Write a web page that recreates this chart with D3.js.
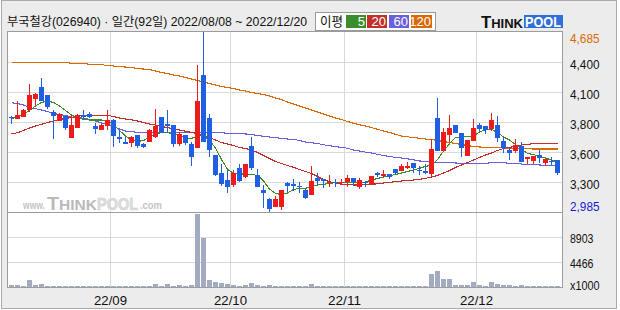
<!DOCTYPE html>
<html>
<head>
<meta charset="utf-8">
<script src="https://cdn.jsdelivr.net/npm/d3@7"></script>
<style>
body { margin: 0; background: #fff; }
svg { display: block; }
text { font-family: "Liberation Sans", "Noto Sans CJK KR", sans-serif; }
</style>
</head>
<body>
<script>
// trading days per month, 2022
var augDays = [8,9,10,11,12,16,17,18,19,22,23,24,25,26,29,30,31];
var sepDays = [1,2,5,6,7,8,13,14,15,16,19,20,21,22,23,26,27,28,29,30];
var octDays = [4,5,6,7,11,12,13,14,17,18,19,20,21,24,25,26,27,28,31];
var novDays = [1,2,3,4,7,8,9,10,11,14,15,16,17,18,21,22,23,24,25,28,29,30];
var decDays = [1,2,5,6,7,8,9,12,13,14,15,16,19,20];

var opens = [3880,3860,3885,3950,4050,4165,4090,3930,3845,3890,
  3685,3775,3900,3910,3795,3755,3800,3855,3695,3645,
  3635,3710,3625,3650,3690,3880,3815,3805,3625,3710,
  3625,3585,4280,3875,3525,3350,3285,3240,3400,3320,
  3610,3330,3195,3110,3035,3035,3260,3245,3235,3195,
  3150,3305,3295,3260,3270,3260,3270,3305,3225,3270,
  3250,3355,3325,3345,3390,3375,3400,3445,3380,3370,
  3345,3875,3565,3710,3805,3735,3515,3655,3805,3795,
  3765,3805,3655,3570,3565,3610,3490,3470,3525,3450,
  3470,3475];
var highs = [3890,4035,3960,4195,4105,4250,4090,3950,3920,3890,
  3900,3910,3950,3930,3825,3815,3950,3860,3760,3690,
  3705,3715,3635,3770,3960,3880,3950,3805,3745,3715,
  3650,4375,4685,3910,3525,3435,3380,3380,3435,3435,
  3690,3395,3240,3115,3135,3195,3270,3295,3270,3200,
  3415,3350,3300,3335,3295,3295,3330,3305,3310,3280,
  3325,3365,3380,3345,3390,3435,3460,3445,3415,3435,
  3675,4060,3775,3900,3805,3735,3665,3865,3825,3800,
  3920,3890,3695,3600,3675,3645,3500,3515,3570,3490,
  3500,3475];
var lows = [3815,3860,3880,3930,3985,4035,3955,3670,3845,3760,
  3685,3775,3855,3875,3720,3755,3760,3600,3635,3625,
  3595,3590,3585,3650,3680,3730,3730,3600,3610,3620,
  3420,3585,3650,3500,3325,3235,3165,3220,3270,3305,
  3380,3220,3020,2985,3035,3005,3175,3185,3160,3110,
  3150,3240,3210,3225,3225,3240,3225,3235,3200,3220,
  3250,3315,3305,3295,3345,3375,3395,3355,3335,3345,
  3320,3565,3565,3650,3730,3505,3515,3655,3750,3720,
  3750,3650,3545,3475,3545,3460,3435,3435,3450,3415,
  3430,3335];
var closes = [3870,3900,3950,4090,4095,4035,3980,3895,3910,3780,
  3805,3900,3880,3880,3765,3805,3855,3705,3675,3630,
  3695,3610,3600,3760,3795,3735,3795,3625,3720,3640,
  3505,4035,3650,3570,3335,3250,3225,3350,3280,3435,
  3405,3225,3160,3015,3110,3195,3235,3235,3220,3120,
  3280,3280,3280,3270,3255,3270,3310,3270,3285,3255,
  3325,3330,3345,3315,3350,3420,3420,3405,3370,3355,
  3580,3565,3740,3775,3730,3585,3665,3775,3770,3760,
  3855,3685,3590,3545,3620,3460,3500,3515,3495,3490,
  3460,3355];
// volume, x1000 shares
var volumes = [300,360,180,1250,360,530,180,180,180,180,
  180,180,180,180,180,180,180,180,180,180,
  180,180,180,180,530,180,530,180,360,180,
  360,13000,8720,1250,890,710,530,360,180,360,
  710,360,180,360,180,180,180,180,180,180,
  530,180,180,180,180,180,180,180,180,180,
  180,180,180,180,180,180,180,180,180,180,
  2310,2850,1420,1420,360,360,360,890,360,180,
  890,530,360,360,180,360,180,180,180,180,
  180,180];

var ma5 = [3863,3885,3910,3944,3986,4019,4033,4019,3986,3944,
  3901,3876,3860,3854,3854,3854,3849,3807,3755,3703,
  3665,3651,3660,3693,3722,3734,3734,3726,3712,3684,
  3679,3703,3712,3660,3590,3480,3390,3350,3344,3344,
  3341,3330,3278,3202,3160,3150,3164,3197,3209,3209,
  3225,3240,3247,3254,3262,3262,3262,3262,3259,3268,
  3287,3301,3316,3328,3339,3353,3367,3382,3398,3415,
  3429,3480,3560,3630,3688,3696,3700,3703,3740,3764,
  3766,3736,3693,3665,3622,3580,3537,3528,3509,3495,
  3476,3457];
var ma20 = [3722,3734,3755,3778,3797,3813,3830,3844,3858,3868,
  3877,3891,3896,3898,3898,3898,3898,3887,3873,3863,
  3856,3844,3830,3816,3806,3792,3783,3769,3759,3748,
  3736,3726,3712,3688,3665,3641,3627,3613,3594,3585,
  3570,3547,3518,3490,3462,3443,3424,3407,3386,3367,
  3348,3320,3292,3271,3259,3247,3245,3240,3240,3245,
  3247,3251,3259,3264,3273,3278,3282,3287,3294,3303,
  3316,3330,3353,3377,3405,3429,3452,3476,3500,3523,
  3542,3566,3585,3596,3604,3618,3624,3630,3634,3634,
  3632,3627];
var ma60 = [4016,4010,3995,3972,3961,3948,3934,3915,3906,3896,
  3882,3877,3870,3860,3844,3825,3811,3792,3769,3750,
  3743,3738,3734,3734,3734,3734,3734,3734,3734,3734,
  3734,3734,3734,3734,3734,3734,3728,3728,3724,3722,
  3717,3707,3700,3693,3687,3681,3674,3671,3660,3646,
  3639,3632,3620,3611,3602,3596,3587,3570,3561,3551,
  3542,3530,3518,3509,3501,3495,3487,3478,3467,3462,
  3457,3454,3454,3452,3448,3445,3445,3445,3445,3445,
  3450,3451,3450,3445,3443,3438,3435,3433,3429,3426,
  3422,3419];
var ma120 = [4399,4399,4399,4399,4399,4399,4399,4399,4399,4399,
  4389,4389,4387,4380,4380,4378,4367,4364,4357,4354,
  4350,4340,4335,4331,4316,4302,4293,4279,4269,4255,
  4241,4227,4213,4198,4184,4170,4161,4151,4137,4128,
  4113,4104,4095,4080,4062,4047,4024,4005,3986,3967,
  3948,3929,3910,3892,3873,3858,3840,3823,3809,3797,
  3783,3766,3750,3736,3719,3703,3695,3688,3681,3674,
  3670,3660,3651,3641,3632,3622,3613,3603,3599,3597,
  3595,3594,3591,3587,3585,3584,3582,3580,3580,3580,
  3580,3580];

var priceLabels = ["3,300","3,600","3,800","4,100","4,400"];
var volLabels = ["4466","8903"];
var monthStarts = ["2022-09-01","2022-10-04","2022-11-01","2022-12-01"];
var monthLabels = ["22/09","22/10","22/11","22/12"];
var maNames = ["5","20","60","120"];
var maColors = ["#3b8e2a","#c3302a","#6a5fdc","#da6a08"];

window.onload = function() {

  var dates = [];
  [["08", augDays], ["09", sepDays], ["10", octDays], ["11", novDays], ["12", decDays]].forEach(function(m) {
    m[1].forEach(function(d) { dates.push("2022-" + m[0] + "-" + (d < 10 ? "0" + d : d)); });
  });

  var pMin = 2985, pMax = 4685, vMax = 13398;
  var left = 7.5, right = 562.5, top = 31.5, mid = 212.5, bottom = 287.5;

  var x = d3.scaleBand().domain(dates).range([8.5, 560.5]).paddingInner(1/6).paddingOuter(1/12);
  var bw = x.bandwidth();
  var y = d3.scaleLinear().domain([pMin, pMax]).range([212, 32]);
  var yv = d3.scaleLinear().domain([0, vMax]).range([287, 212]);

  var svg = d3.select("body").append("svg")
      .attr("width", 620)
      .attr("height", 310);

  svg.append("rect").attr("width", 620).attr("height", 310).attr("fill", "#fff");
  svg.append("rect")
      .attr("x", 1.5).attr("y", 0.5).attr("width", 615).attr("height", 308)
      .attr("fill", "#ececec").attr("stroke", "#aaaaaa");

  // header
  svg.append("text")
      .attr("x", 7).attr("y", 26)
      .attr("font-size", 12.5).attr("fill", "#111")
      .attr("textLength", 300).attr("lengthAdjust", "spacingAndGlyphs")
      .text("부국철강(026940)  ·  일간(92일) 2022/08/08 ~ 2022/12/20");

  // MA legend
  svg.append("rect")
      .attr("x", 315.5).attr("y", 12.5).attr("width", 120).attr("height", 18)
      .attr("fill", "#fff").attr("stroke", "#9a9a9a");
  svg.append("text")
      .attr("x", 320).attr("y", 26)
      .attr("font-size", 13).attr("fill", "#111")
      .attr("textLength", 23).attr("lengthAdjust", "spacingAndGlyphs")
      .text("이평");
  var legX = [346, 367, 389, 411], legW = [20, 20, 20, 21];
  maNames.forEach(function(n, i) {
    svg.append("rect")
        .attr("x", legX[i]).attr("y", 15).attr("width", legW[i]).attr("height", 13)
        .attr("fill", maColors[i]);
    svg.append("text")
        .attr("x", legX[i] + legW[i] - 1).attr("y", 26)
        .attr("text-anchor", "end")
        .attr("font-size", 13).attr("fill", "#fff")
        .text(n);
  });

  // logo
  var logo = svg.append("text").attr("x", 481).attr("y", 27.5)
      .attr("font-weight", "bold").attr("fill", "#111")
      .attr("textLength", 42).attr("lengthAdjust", "spacingAndGlyphs");
  logo.append("tspan").attr("font-size", 16).text("T");
  logo.append("tspan").attr("font-size", 12.5).text("HINK");
  svg.append("rect").attr("x", 524).attr("y", 15).attr("width", 39).attr("height", 13).attr("fill", "#2f6fd8");
  svg.append("text").attr("x", 525).attr("y", 27)
      .attr("font-size", 14).attr("font-weight", "bold").attr("fill", "#fff")
      .attr("textLength", 36).attr("lengthAdjust", "spacingAndGlyphs")
      .text("POOL");

  // plot background
  svg.append("rect")
      .attr("x", left).attr("y", top).attr("width", right - left).attr("height", bottom - top)
      .attr("fill", "#fff");

  var grid = svg.append("g").attr("stroke", "#d9d9d9").attr("shape-rendering", "crispEdges");
  var pGrid = d3.range(1, 6).map(function(k) { return pMin + k * (pMax - pMin) / 6; });
  pGrid.forEach(function(v) {
    grid.append("line").attr("x1", left).attr("x2", right)
        .attr("y1", Math.round(y(v)) + 0.5).attr("y2", Math.round(y(v)) + 0.5);
  });
  [vMax / 3, 2 * vMax / 3].forEach(function(v) {
    grid.append("line").attr("x1", left).attr("x2", right)
        .attr("y1", Math.round(yv(v)) + 0.5).attr("y2", Math.round(yv(v)) + 0.5);
  });
  monthStarts.forEach(function(d) {
    grid.append("line").attr("x1", x(d) - 0.5).attr("x2", x(d) - 0.5)
        .attr("y1", top).attr("y2", bottom);
  });

  // watermark
  var wm = svg.append("g");
  wm.append("text").attr("x", 23).attr("y", 209).attr("font-size", 10)
      .attr("font-weight", "bold").attr("fill", "#c4c4c4")
      .attr("textLength", 22).attr("lengthAdjust", "spacingAndGlyphs").text("www.");
  var wmT = wm.append("text").attr("x", 47).attr("y", 210).attr("font-weight", "bold")
      .attr("fill", "#b9b9b9").attr("textLength", 50).attr("lengthAdjust", "spacingAndGlyphs");
  wmT.append("tspan").attr("font-size", 19).text("T");
  wmT.append("tspan").attr("font-size", 15).text("HINK");
  wm.append("text").attr("x", 97).attr("y", 210).attr("font-size", 16)
      .attr("font-weight", "bold").attr("fill", "#dedede").attr("stroke", "#cfcfcf").attr("stroke-width", 0.6)
      .attr("textLength", 41).attr("lengthAdjust", "spacingAndGlyphs").text("POOL");
  wm.append("text").attr("x", 140).attr("y", 209).attr("font-size", 10)
      .attr("font-weight", "bold").attr("fill", "#c4c4c4")
      .attr("textLength", 22).attr("lengthAdjust", "spacingAndGlyphs").text(".com");

  // moving averages
  var mas = [ma5, ma20, ma60, ma120];
  var line = d3.line()
      .x(function(d, i) { return x(dates[i]) + bw / 2; })
      .y(function(d) { return y(d); });
  mas.slice().reverse().forEach(function(arr, k) {
    var idx = mas.length - 1 - k;
    svg.append("path")
        .attr("d", line(arr))
        .attr("fill", "none")
        .attr("stroke", maColors[idx])
        .attr("stroke-width", 1.1)
        .attr("shape-rendering", "crispEdges");
  });

  // candles
  var up = "#ee1b1b", down = "#1e5fe3";
  var candles = svg.append("g").attr("shape-rendering", "crispEdges");
  dates.forEach(function(d, i) {
    var col = closes[i] >= opens[i] ? up : down;
    var cx = x(d) + bw / 2;
    candles.append("line")
        .attr("x1", cx).attr("x2", cx)
        .attr("y1", y(highs[i])).attr("y2", y(lows[i]))
        .attr("stroke", col);
    var y0 = y(Math.max(opens[i], closes[i])), y1 = y(Math.min(opens[i], closes[i]));
    candles.append("rect")
        .attr("x", x(d)).attr("y", y0)
        .attr("width", bw).attr("height", Math.max(1, y1 - y0))
        .attr("fill", col);
  });

  // volume
  svg.append("g").attr("shape-rendering", "crispEdges")
    .selectAll("rect").data(volumes).enter().append("rect")
      .attr("x", function(v, i) { return x(dates[i]); })
      .attr("y", function(v) { return yv(v); })
      .attr("width", bw)
      .attr("height", function(v) { return Math.max(1, 287 - yv(v)); })
      .attr("fill", "#a3abc3");

  // frame
  var frame = svg.append("g").attr("stroke", "#9c9c9c").attr("fill", "none").attr("shape-rendering", "crispEdges");
  frame.append("rect").attr("x", left).attr("y", top).attr("width", right - left).attr("height", bottom - top);
  frame.append("line").attr("x1", left).attr("x2", right).attr("y1", mid).attr("y2", mid);

  // right axis
  var axis = svg.append("g").attr("font-size", 13);
  pGrid.forEach(function(v, i) {
    axis.append("text").attr("x", 570).attr("y", Math.round(y(v)) + 6.5)
        .attr("fill", "#111").attr("textLength", 29.5).attr("lengthAdjust", "spacingAndGlyphs")
        .text(priceLabels[i]);
  });
  axis.append("text").attr("x", 570).attr("y", y(pMax) + 11)
      .attr("fill", "#d86a00").attr("textLength", 29.5).attr("lengthAdjust", "spacingAndGlyphs")
      .text(d3.format(",")(pMax));
  axis.append("text").attr("x", 570).attr("y", y(pMin) - 1)
      .attr("fill", "#1a1ad6").attr("textLength", 29.5).attr("lengthAdjust", "spacingAndGlyphs")
      .text(d3.format(",")(pMin));
  [vMax / 3, 2 * vMax / 3].forEach(function(v, i) {
    axis.append("text").attr("x", 570).attr("y", Math.round(yv(v)) + 6)
        .attr("fill", "#111").attr("textLength", 23.5).attr("lengthAdjust", "spacingAndGlyphs")
        .text(volLabels[i]);
  });
  axis.append("text").attr("x", 570).attr("y", 290)
      .attr("fill", "#111").attr("textLength", 29.5).attr("lengthAdjust", "spacingAndGlyphs")
      .text("x1000");

  // month labels
  monthStarts.forEach(function(d, i) {
    svg.append("text")
        .attr("x", x(d) - 0.5).attr("y", 305)
        .attr("text-anchor", "middle").attr("font-size", 13).attr("fill", "#111")
        .attr("textLength", 33).attr("lengthAdjust", "spacingAndGlyphs")
        .text(monthLabels[i]);
  });
};
</script>
</body>
</html>
